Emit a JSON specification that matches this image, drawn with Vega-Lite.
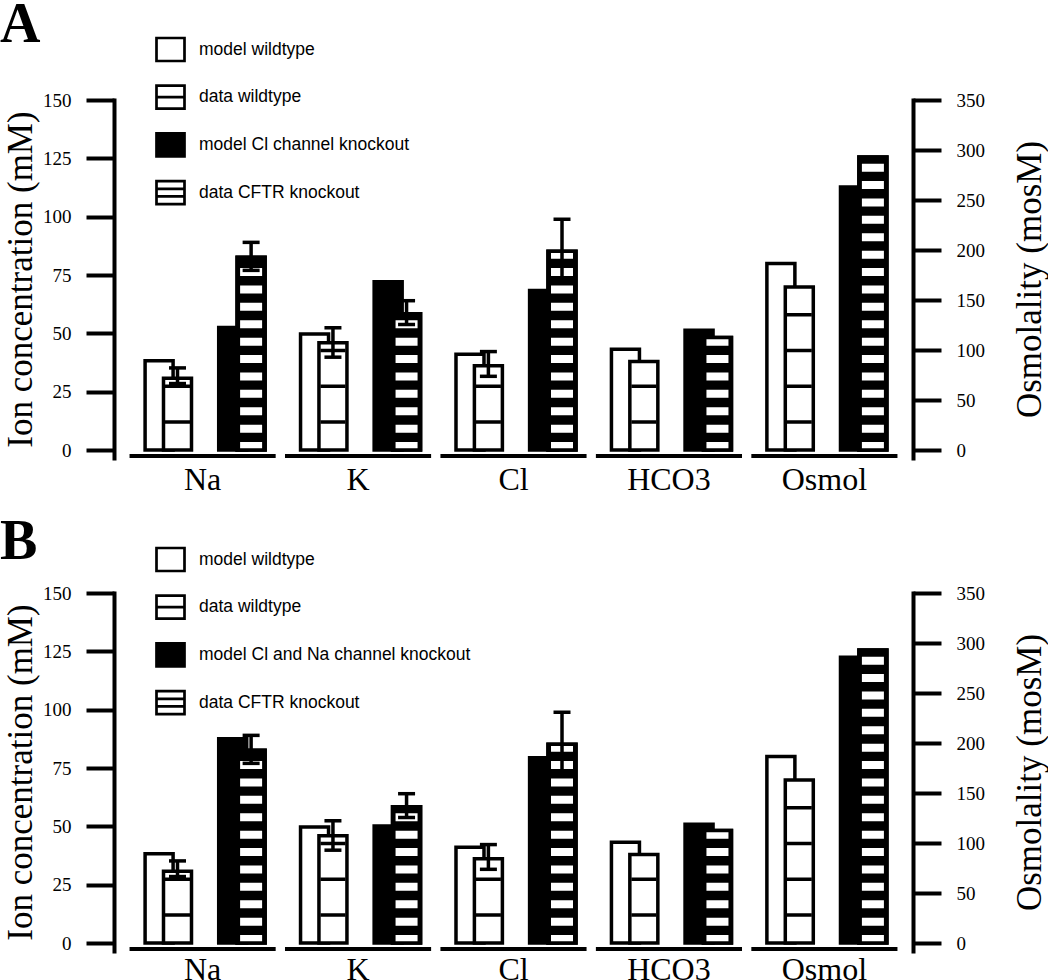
{
  "$schema": "https://vega.github.io/schema/vega-lite/v6.json",
  "padding": {"left": 0, "top": -3, "right": 0, "bottom": 0},
  "bounds": "flush",
  "spacing": 135,
  "resolve": {"scale": {"shape": "independent", "fill": "independent"}, "legend": {"shape": "independent", "fill": "independent"}},
  "config": {
    "view": {"stroke": null},
    "font": "Liberation Serif",
    "style": {"guide-label": {"font": "Liberation Serif", "fontSize": 19, "fill": "black"}},
    "axisY": {"labelFont": "Liberation Serif", "labelFontSize": 19, "labelColor": "black", "labelPadding": 15, "tickSize": 28, "tickWidth": 4, "tickColor": "black", "domainWidth": 4, "domainColor": "black", "domainCap": "square", "titleFont": "Liberation Serif", "titleFontSize": 35, "titleFontWeight": "normal", "titleColor": "black", "grid": false},
    "axisX": {"labelFont": "Liberation Serif", "labelFontSize": 32, "labelColor": "black", "labelPadding": 6, "domain": false, "ticks": false, "tickSize": 0, "labelAngle": 0, "grid": false}
  },
  "datasets": {
    "A": [
      {"group": "Na", "kind": "mwt", "series": "model wildtype", "value": 38.3},
      {"group": "Na", "kind": "dwt", "series": "data wildtype", "value": 30.8, "lo": 28.5, "hi": 35.2},
      {"group": "Na", "kind": "mko", "series": "model Cl channel knockout", "value": 52.5},
      {"group": "Na", "kind": "dko", "series": "data CFTR knockout", "value": 82.6, "lo": 77, "hi": 89},
      {"group": "K", "kind": "mwt", "series": "model wildtype", "value": 49.7},
      {"group": "K", "kind": "dwt", "series": "data wildtype", "value": 46, "lo": 39.8, "hi": 52.4},
      {"group": "K", "kind": "mko", "series": "model Cl channel knockout", "value": 72.1},
      {"group": "K", "kind": "dko", "series": "data CFTR knockout", "value": 58.4, "lo": 53.8, "hi": 64},
      {"group": "Cl", "kind": "mwt", "series": "model wildtype", "value": 41.1},
      {"group": "Cl", "kind": "dwt", "series": "data wildtype", "value": 36.1, "lo": 31.6, "hi": 42.2},
      {"group": "Cl", "kind": "mko", "series": "model Cl channel knockout", "value": 68.4},
      {"group": "Cl", "kind": "dko", "series": "data CFTR knockout", "value": 85.2, "lo": 71.7, "hi": 98.9},
      {"group": "HCO3", "kind": "mwt", "series": "model wildtype", "value": 43.2},
      {"group": "HCO3", "kind": "dwt", "series": "data wildtype", "value": 38},
      {"group": "HCO3", "kind": "mko", "series": "model Cl channel knockout", "value": 51.3},
      {"group": "HCO3", "kind": "dko", "series": "data CFTR knockout", "value": 48.2},
      {"group": "Osmol", "kind": "mwt", "series": "model wildtype", "value": 186.5},
      {"group": "Osmol", "kind": "dwt", "series": "data wildtype", "value": 163},
      {"group": "Osmol", "kind": "mko", "series": "model Cl channel knockout", "value": 263},
      {"group": "Osmol", "kind": "dko", "series": "data CFTR knockout", "value": 293}
    ],
    "B": [
      {"group": "Na", "kind": "mwt", "series": "model wildtype", "value": 38.3},
      {"group": "Na", "kind": "dwt", "series": "data wildtype", "value": 30.8, "lo": 28.5, "hi": 35.2},
      {"group": "Na", "kind": "mko", "series": "model Cl and Na channel knockout", "value": 87.6},
      {"group": "Na", "kind": "dko", "series": "data CFTR knockout", "value": 82.6, "lo": 77, "hi": 89},
      {"group": "K", "kind": "mwt", "series": "model wildtype", "value": 49.7},
      {"group": "K", "kind": "dwt", "series": "data wildtype", "value": 46, "lo": 39.8, "hi": 52.4},
      {"group": "K", "kind": "mko", "series": "model Cl and Na channel knockout", "value": 50.2},
      {"group": "K", "kind": "dko", "series": "data CFTR knockout", "value": 58.4, "lo": 53.8, "hi": 64},
      {"group": "Cl", "kind": "mwt", "series": "model wildtype", "value": 41.1},
      {"group": "Cl", "kind": "dwt", "series": "data wildtype", "value": 36.1, "lo": 31.6, "hi": 42.2},
      {"group": "Cl", "kind": "mko", "series": "model Cl and Na channel knockout", "value": 79.4},
      {"group": "Cl", "kind": "dko", "series": "data CFTR knockout", "value": 85.2, "lo": 71.7, "hi": 98.9},
      {"group": "HCO3", "kind": "mwt", "series": "model wildtype", "value": 43.2},
      {"group": "HCO3", "kind": "dwt", "series": "data wildtype", "value": 38},
      {"group": "HCO3", "kind": "mko", "series": "model Cl and Na channel knockout", "value": 50.9},
      {"group": "HCO3", "kind": "dko", "series": "data CFTR knockout", "value": 48.2},
      {"group": "Osmol", "kind": "mwt", "series": "model wildtype", "value": 186.5},
      {"group": "Osmol", "kind": "dwt", "series": "data wildtype", "value": 163},
      {"group": "Osmol", "kind": "mko", "series": "model Cl and Na channel knockout", "value": 285.7},
      {"group": "Osmol", "kind": "dko", "series": "data CFTR knockout", "value": 293}
    ]
  },
  "vconcat": [
    {
      "width": 799, "height": 358,
      "title": {"text": "A", "anchor": "start", "frame": "group", "font": "Liberation Serif", "fontSize": 56, "fontWeight": "bold", "color": "black", "dx": -114, "dy": 20, "offset": 0},
      "data": {"name": "A"},
      "encoding": {
        "x": {"field": "group", "type": "nominal", "title": null,
          "scale": {"domain": ["Na", "K", "Cl", "HCO3", "Osmol"], "paddingInner": 0.06, "paddingOuter": 0.1},
          "axis": {"domain": false, "ticks": false, "tickSize": 0, "labelAngle": 0, "labelFont": "Liberation Serif", "labelFontSize": 32, "labelColor": "black", "labelPadding": 6}}
      },
      "layer": [
        {
          "encoding": {"y": {"field": "value", "type": "quantitative", "scale": {"domain": [-3.4, 150], "nice": false},
            "axis": {"orient": "left", "values": [0, 25, 50, 75, 100, 125, 150], "title": "Ion concentration (mM)", "titleFont": "Liberation Serif", "titleFontSize": 35, "titleFontWeight": "normal", "titleColor": "black", "titlePadding": 4, "labelFont": "Liberation Serif", "labelFontSize": 19, "labelColor": "black", "labelPadding": 15, "tickSize": 28, "tickWidth": 4, "tickColor": "black", "domainWidth": 4, "domainColor": "black", "domainCap": "square", "grid": false}}},
          "layer": [
            {"transform": [{"filter": "datum.kind == 'mwt'"}], "mark": {"type": "bar", "color": "black"},
             "encoding": {"y": {"datum": -1.7, "type": "quantitative", "scale": {"domain": [-3.4, 150], "nice": false},
               "axis": {"orient": "left", "values": [0, 25, 50, 75, 100, 125, 150], "title": "Ion concentration (mM)", "titleFont": "Liberation Serif", "titleFontSize": 35, "titleFontWeight": "normal", "titleColor": "black", "titlePadding": 4, "labelFont": "Liberation Serif", "labelFontSize": 19, "labelColor": "black", "labelPadding": 15, "tickSize": 28, "tickWidth": 4, "tickColor": "black", "domainWidth": 4, "domainColor": "black", "domainCap": "square", "grid": false}},
               "y2": {"datum": -3.4}}},
            {"transform": [{"filter": "datum.group != 'Osmol'"}],
             "layer": [
               {"transform": [{"filter": "datum.kind == 'mwt'"}], "mark": {"type": "bar", "width": 28, "fill": "white", "stroke": "black", "strokeWidth": 3.5},
                "encoding": {"xOffset": {"field": "kind", "type": "nominal", "scale": {"domain": ["mwt", "dwt", "g1", "g2", "mko", "dko"], "paddingInner": 0, "paddingOuter": 0.97, "align": 0.57}}}},
               {"transform": [{"filter": "datum.kind == 'dwt'"}], "mark": {"type": "bar", "width": 28, "fill": "white", "stroke": "black", "strokeWidth": 3.5},
                "encoding": {"xOffset": {"field": "kind", "type": "nominal", "scale": {"domain": ["mwt", "dwt", "g1", "g2", "mko", "dko"], "paddingInner": 0, "paddingOuter": 0.97, "align": 0.57}}}},
               {"transform": [{"filter": "datum.kind == 'dwt'"}], "mark": {"type": "rule", "stroke": "black", "strokeWidth": 25, "strokeDash": [3.5, 32.3], "strokeDashOffset": 9.55, "strokeCap": "butt"},
                "encoding": {"xOffset": {"field": "kind", "type": "nominal", "scale": {"domain": ["mwt", "dwt", "g1", "g2", "mko", "dko"], "paddingInner": 0, "paddingOuter": 0.97, "align": 0.57}},
                  "y": {"datum": 0, "type": "quantitative", "scale": {"domain": [-3.4, 150], "nice": false},
                    "axis": {"orient": "left", "values": [0, 25, 50, 75, 100, 125, 150], "title": "Ion concentration (mM)", "titleFont": "Liberation Serif", "titleFontSize": 35, "titleFontWeight": "normal", "titleColor": "black", "titlePadding": 4, "labelFont": "Liberation Serif", "labelFontSize": 19, "labelColor": "black", "labelPadding": 15, "tickSize": 28, "tickWidth": 4, "tickColor": "black", "domainWidth": 4, "domainColor": "black", "domainCap": "square", "grid": false}},
                  "y2": {"field": "value"}}},
               {"transform": [{"filter": "datum.kind == 'mko'"}], "mark": {"type": "bar", "width": 28, "fill": "black", "stroke": "black", "strokeWidth": 3.5},
                "encoding": {"xOffset": {"field": "kind", "type": "nominal", "scale": {"domain": ["mwt", "dwt", "g1", "g2", "mko", "dko"], "paddingInner": 0, "paddingOuter": 0.97, "align": 0.57}}}},
               {"transform": [{"filter": "datum.kind == 'dko'"}], "mark": {"type": "bar", "width": 28, "fill": "black", "stroke": "black", "strokeWidth": 3.5},
                "encoding": {"xOffset": {"field": "kind", "type": "nominal", "scale": {"domain": ["mwt", "dwt", "g1", "g2", "mko", "dko"], "paddingInner": 0, "paddingOuter": 0.97, "align": 0.57}}}},
               {"transform": [{"filter": "datum.kind == 'dko'"}], "mark": {"type": "rule", "stroke": "white", "strokeWidth": 22, "strokeDash": [8, 9.4], "strokeDashOffset": 0, "strokeCap": "butt"},
                "encoding": {"xOffset": {"field": "kind", "type": "nominal", "scale": {"domain": ["mwt", "dwt", "g1", "g2", "mko", "dko"], "paddingInner": 0, "paddingOuter": 0.97, "align": 0.57}},
                  "y": {"datum": 0, "type": "quantitative", "scale": {"domain": [-3.4, 150], "nice": false},
                    "axis": {"orient": "left", "values": [0, 25, 50, 75, 100, 125, 150], "title": "Ion concentration (mM)", "titleFont": "Liberation Serif", "titleFontSize": 35, "titleFontWeight": "normal", "titleColor": "black", "titlePadding": 4, "labelFont": "Liberation Serif", "labelFontSize": 19, "labelColor": "black", "labelPadding": 15, "tickSize": 28, "tickWidth": 4, "tickColor": "black", "domainWidth": 4, "domainColor": "black", "domainCap": "square", "grid": false}},
                  "y2": {"field": "value"}}},
               {"transform": [{"filter": "datum.kind == 'dko'"}], "mark": {"type": "bar", "width": 28, "filled": false, "stroke": "black", "strokeWidth": 3.5},
                "encoding": {"xOffset": {"field": "kind", "type": "nominal", "scale": {"domain": ["mwt", "dwt", "g1", "g2", "mko", "dko"], "paddingInner": 0, "paddingOuter": 0.97, "align": 0.57}}}},
               {"transform": [{"filter": "isValid(datum.lo)"}], "mark": {"type": "rule", "stroke": "black", "strokeWidth": 3.5, "opacity": 1},
                "encoding": {"xOffset": {"field": "kind", "type": "nominal", "scale": {"domain": ["mwt", "dwt", "g1", "g2", "mko", "dko"], "paddingInner": 0, "paddingOuter": 0.97, "align": 0.57}},
                  "y": {"field": "lo", "type": "quantitative", "scale": {"domain": [-3.4, 150], "nice": false},
                    "axis": {"orient": "left", "values": [0, 25, 50, 75, 100, 125, 150], "title": "Ion concentration (mM)", "titleFont": "Liberation Serif", "titleFontSize": 35, "titleFontWeight": "normal", "titleColor": "black", "titlePadding": 4, "labelFont": "Liberation Serif", "labelFontSize": 19, "labelColor": "black", "labelPadding": 15, "tickSize": 28, "tickWidth": 4, "tickColor": "black", "domainWidth": 4, "domainColor": "black", "domainCap": "square", "grid": false}},
                  "y2": {"field": "hi"}}},
               {"transform": [{"filter": "isValid(datum.hi)"}], "mark": {"type": "tick", "orient": "horizontal", "color": "black", "size": 17, "thickness": 3.5, "opacity": 1},
                "encoding": {"xOffset": {"field": "kind", "type": "nominal", "scale": {"domain": ["mwt", "dwt", "g1", "g2", "mko", "dko"], "paddingInner": 0, "paddingOuter": 0.97, "align": 0.57}},
                  "y": {"field": "hi", "type": "quantitative", "scale": {"domain": [-3.4, 150], "nice": false},
                    "axis": {"orient": "left", "values": [0, 25, 50, 75, 100, 125, 150], "title": "Ion concentration (mM)", "titleFont": "Liberation Serif", "titleFontSize": 35, "titleFontWeight": "normal", "titleColor": "black", "titlePadding": 4, "labelFont": "Liberation Serif", "labelFontSize": 19, "labelColor": "black", "labelPadding": 15, "tickSize": 28, "tickWidth": 4, "tickColor": "black", "domainWidth": 4, "domainColor": "black", "domainCap": "square", "grid": false}}}},
               {"transform": [{"filter": "isValid(datum.lo)"}], "mark": {"type": "tick", "orient": "horizontal", "color": "black", "size": 17, "thickness": 3.5, "opacity": 1},
                "encoding": {"xOffset": {"field": "kind", "type": "nominal", "scale": {"domain": ["mwt", "dwt", "g1", "g2", "mko", "dko"], "paddingInner": 0, "paddingOuter": 0.97, "align": 0.57}},
                  "y": {"field": "lo", "type": "quantitative", "scale": {"domain": [-3.4, 150], "nice": false},
                    "axis": {"orient": "left", "values": [0, 25, 50, 75, 100, 125, 150], "title": "Ion concentration (mM)", "titleFont": "Liberation Serif", "titleFontSize": 35, "titleFontWeight": "normal", "titleColor": "black", "titlePadding": 4, "labelFont": "Liberation Serif", "labelFontSize": 19, "labelColor": "black", "labelPadding": 15, "tickSize": 28, "tickWidth": 4, "tickColor": "black", "domainWidth": 4, "domainColor": "black", "domainCap": "square", "grid": false}}}},
               {"mark": {"type": "point", "filled": true, "opacity": 0, "size": 784, "stroke": "black", "strokeWidth": 2.7},
                "encoding": {
                  "shape": {"field": "series", "type": "nominal",
                    "scale": {"domain": ["model wildtype", "data wildtype", "model Cl channel knockout", "data CFTR knockout"],
                      "range": ["M-1,-0.82H1V0.82H-1Z", "M-1,-0.82H1V0.82H-1Z M-1,0H1", "M-1,-0.82H1V0.82H-1Z M-1,-0.64H1 M-1,-0.46H1 M-1,-0.28H1 M-1,-0.1H1 M-1,0.08H1 M-1,0.26H1 M-1,0.44H1 M-1,0.62H1 M-1,0.72H1", "M-1,-0.82H1V0.82H-1Z M-1,-0.27H1 M-1,0.27H1"]},
                    "legend": {"orient": "none", "legendX": 41, "legendY": -66, "title": null, "padding": 0, "rowPadding": 12.7, "symbolSize": 784, "symbolStrokeWidth": 2.7, "labelFont": "Liberation Sans", "labelFontSize": 17.5, "labelColor": "black", "labelOffset": 13, "labelLimit": 500}},
                  "fill": {"field": "series", "type": "nominal",
                    "scale": {"domain": ["model wildtype", "data wildtype", "model Cl channel knockout", "data CFTR knockout"], "range": ["white", "white", "black", "white"]},
                    "legend": {"orient": "none", "legendX": 41, "legendY": -66, "title": null, "padding": 0, "rowPadding": 12.7, "symbolSize": 784, "symbolStrokeWidth": 2.7, "labelFont": "Liberation Sans", "labelFontSize": 17.5, "labelColor": "black", "labelOffset": 13, "labelLimit": 500}}
                }}
             ]}
          ]
        },
        {
          "transform": [{"filter": "datum.group == 'Osmol'"}],
          "encoding": {"y": {"field": "value", "type": "quantitative", "scale": {"domain": [-7.933, 350], "nice": false},
            "axis": {"orient": "right", "values": [0, 50, 100, 150, 200, 250, 300, 350], "title": "Osmolality (mosM)", "titleAngle": 270, "titleBaseline": "top", "titleFont": "Liberation Serif", "titleFontSize": 35, "titleFontWeight": "normal", "titleColor": "black", "titlePadding": 28, "labelFont": "Liberation Serif", "labelFontSize": 19, "labelColor": "black", "labelPadding": 15, "tickSize": 28, "tickWidth": 4, "tickColor": "black", "domainWidth": 4, "domainColor": "black", "domainCap": "square", "grid": false}}},
          "layer": [
            {"transform": [{"filter": "datum.kind == 'mwt'"}], "mark": {"type": "bar", "width": 28, "fill": "white", "stroke": "black", "strokeWidth": 3.5},
             "encoding": {"xOffset": {"field": "kind", "type": "nominal", "scale": {"domain": ["mwt", "dwt", "g1", "g2", "mko", "dko"], "paddingInner": 0, "paddingOuter": 0.97, "align": 0.57}}}},
            {"transform": [{"filter": "datum.kind == 'dwt'"}], "mark": {"type": "bar", "width": 28, "fill": "white", "stroke": "black", "strokeWidth": 3.5},
             "encoding": {"xOffset": {"field": "kind", "type": "nominal", "scale": {"domain": ["mwt", "dwt", "g1", "g2", "mko", "dko"], "paddingInner": 0, "paddingOuter": 0.97, "align": 0.57}}}},
            {"transform": [{"filter": "datum.kind == 'dwt'"}], "mark": {"type": "rule", "stroke": "black", "strokeWidth": 25, "strokeDash": [3.5, 32.3], "strokeDashOffset": 9.55, "strokeCap": "butt"},
             "encoding": {"xOffset": {"field": "kind", "type": "nominal", "scale": {"domain": ["mwt", "dwt", "g1", "g2", "mko", "dko"], "paddingInner": 0, "paddingOuter": 0.97, "align": 0.57}},
               "y": {"datum": 0, "type": "quantitative", "scale": {"domain": [-7.933, 350], "nice": false},
                 "axis": {"orient": "right", "values": [0, 50, 100, 150, 200, 250, 300, 350], "title": "Osmolality (mosM)", "titleAngle": 270, "titleBaseline": "top", "titleFont": "Liberation Serif", "titleFontSize": 35, "titleFontWeight": "normal", "titleColor": "black", "titlePadding": 28, "labelFont": "Liberation Serif", "labelFontSize": 19, "labelColor": "black", "labelPadding": 15, "tickSize": 28, "tickWidth": 4, "tickColor": "black", "domainWidth": 4, "domainColor": "black", "domainCap": "square", "grid": false}},
               "y2": {"field": "value"}}},
            {"transform": [{"filter": "datum.kind == 'mko'"}], "mark": {"type": "bar", "width": 28, "fill": "black", "stroke": "black", "strokeWidth": 3.5},
             "encoding": {"xOffset": {"field": "kind", "type": "nominal", "scale": {"domain": ["mwt", "dwt", "g1", "g2", "mko", "dko"], "paddingInner": 0, "paddingOuter": 0.97, "align": 0.57}}}},
            {"transform": [{"filter": "datum.kind == 'dko'"}], "mark": {"type": "bar", "width": 28, "fill": "black", "stroke": "black", "strokeWidth": 3.5},
             "encoding": {"xOffset": {"field": "kind", "type": "nominal", "scale": {"domain": ["mwt", "dwt", "g1", "g2", "mko", "dko"], "paddingInner": 0, "paddingOuter": 0.97, "align": 0.57}}}},
            {"transform": [{"filter": "datum.kind == 'dko'"}], "mark": {"type": "rule", "stroke": "white", "strokeWidth": 22, "strokeDash": [8, 9.4], "strokeDashOffset": 0, "strokeCap": "butt"},
             "encoding": {"xOffset": {"field": "kind", "type": "nominal", "scale": {"domain": ["mwt", "dwt", "g1", "g2", "mko", "dko"], "paddingInner": 0, "paddingOuter": 0.97, "align": 0.57}},
               "y": {"datum": 0, "type": "quantitative", "scale": {"domain": [-7.933, 350], "nice": false},
                 "axis": {"orient": "right", "values": [0, 50, 100, 150, 200, 250, 300, 350], "title": "Osmolality (mosM)", "titleAngle": 270, "titleBaseline": "top", "titleFont": "Liberation Serif", "titleFontSize": 35, "titleFontWeight": "normal", "titleColor": "black", "titlePadding": 28, "labelFont": "Liberation Serif", "labelFontSize": 19, "labelColor": "black", "labelPadding": 15, "tickSize": 28, "tickWidth": 4, "tickColor": "black", "domainWidth": 4, "domainColor": "black", "domainCap": "square", "grid": false}},
               "y2": {"field": "value"}}},
            {"transform": [{"filter": "datum.kind == 'dko'"}], "mark": {"type": "bar", "width": 28, "filled": false, "stroke": "black", "strokeWidth": 3.5},
             "encoding": {"xOffset": {"field": "kind", "type": "nominal", "scale": {"domain": ["mwt", "dwt", "g1", "g2", "mko", "dko"], "paddingInner": 0, "paddingOuter": 0.97, "align": 0.57}}}}
          ]
        }
      ],
      "resolve": {"scale": {"y": "independent"}, "axis": {"y": "independent"}}
    },
    {
      "width": 799, "height": 358,
      "title": {"text": "B", "anchor": "start", "frame": "group", "font": "Liberation Serif", "fontSize": 56, "fontWeight": "bold", "color": "black", "dx": -114, "dy": 27, "offset": 0},
      "data": {"name": "B"},
      "encoding": {
        "x": {"field": "group", "type": "nominal", "title": null,
          "scale": {"domain": ["Na", "K", "Cl", "HCO3", "Osmol"], "paddingInner": 0.06, "paddingOuter": 0.1},
          "axis": {"domain": false, "ticks": false, "tickSize": 0, "labelAngle": 0, "labelFont": "Liberation Serif", "labelFontSize": 32, "labelColor": "black", "labelPadding": 3}}
      },
      "layer": [
        {
          "encoding": {"y": {"field": "value", "type": "quantitative", "scale": {"domain": [-3.4, 150], "nice": false},
            "axis": {"orient": "left", "values": [0, 25, 50, 75, 100, 125, 150], "title": "Ion concentration (mM)", "titleFont": "Liberation Serif", "titleFontSize": 35, "titleFontWeight": "normal", "titleColor": "black", "titlePadding": 4, "labelFont": "Liberation Serif", "labelFontSize": 19, "labelColor": "black", "labelPadding": 15, "tickSize": 28, "tickWidth": 4, "tickColor": "black", "domainWidth": 4, "domainColor": "black", "domainCap": "square", "grid": false}}},
          "layer": [
            {"transform": [{"filter": "datum.kind == 'mwt'"}], "mark": {"type": "bar", "color": "black"},
             "encoding": {"y": {"datum": -1.7, "type": "quantitative", "scale": {"domain": [-3.4, 150], "nice": false},
               "axis": {"orient": "left", "values": [0, 25, 50, 75, 100, 125, 150], "title": "Ion concentration (mM)", "titleFont": "Liberation Serif", "titleFontSize": 35, "titleFontWeight": "normal", "titleColor": "black", "titlePadding": 4, "labelFont": "Liberation Serif", "labelFontSize": 19, "labelColor": "black", "labelPadding": 15, "tickSize": 28, "tickWidth": 4, "tickColor": "black", "domainWidth": 4, "domainColor": "black", "domainCap": "square", "grid": false}},
               "y2": {"datum": -3.4}}},
            {"transform": [{"filter": "datum.group != 'Osmol'"}],
             "layer": [
               {"transform": [{"filter": "datum.kind == 'mwt'"}], "mark": {"type": "bar", "width": 28, "fill": "white", "stroke": "black", "strokeWidth": 3.5},
                "encoding": {"xOffset": {"field": "kind", "type": "nominal", "scale": {"domain": ["mwt", "dwt", "g1", "g2", "mko", "dko"], "paddingInner": 0, "paddingOuter": 0.97, "align": 0.57}}}},
               {"transform": [{"filter": "datum.kind == 'dwt'"}], "mark": {"type": "bar", "width": 28, "fill": "white", "stroke": "black", "strokeWidth": 3.5},
                "encoding": {"xOffset": {"field": "kind", "type": "nominal", "scale": {"domain": ["mwt", "dwt", "g1", "g2", "mko", "dko"], "paddingInner": 0, "paddingOuter": 0.97, "align": 0.57}}}},
               {"transform": [{"filter": "datum.kind == 'dwt'"}], "mark": {"type": "rule", "stroke": "black", "strokeWidth": 25, "strokeDash": [3.5, 32.3], "strokeDashOffset": 9.55, "strokeCap": "butt"},
                "encoding": {"xOffset": {"field": "kind", "type": "nominal", "scale": {"domain": ["mwt", "dwt", "g1", "g2", "mko", "dko"], "paddingInner": 0, "paddingOuter": 0.97, "align": 0.57}},
                  "y": {"datum": 0, "type": "quantitative", "scale": {"domain": [-3.4, 150], "nice": false},
                    "axis": {"orient": "left", "values": [0, 25, 50, 75, 100, 125, 150], "title": "Ion concentration (mM)", "titleFont": "Liberation Serif", "titleFontSize": 35, "titleFontWeight": "normal", "titleColor": "black", "titlePadding": 4, "labelFont": "Liberation Serif", "labelFontSize": 19, "labelColor": "black", "labelPadding": 15, "tickSize": 28, "tickWidth": 4, "tickColor": "black", "domainWidth": 4, "domainColor": "black", "domainCap": "square", "grid": false}},
                  "y2": {"field": "value"}}},
               {"transform": [{"filter": "datum.kind == 'mko'"}], "mark": {"type": "bar", "width": 28, "fill": "black", "stroke": "black", "strokeWidth": 3.5},
                "encoding": {"xOffset": {"field": "kind", "type": "nominal", "scale": {"domain": ["mwt", "dwt", "g1", "g2", "mko", "dko"], "paddingInner": 0, "paddingOuter": 0.97, "align": 0.57}}}},
               {"transform": [{"filter": "datum.kind == 'dko'"}], "mark": {"type": "bar", "width": 28, "fill": "black", "stroke": "black", "strokeWidth": 3.5},
                "encoding": {"xOffset": {"field": "kind", "type": "nominal", "scale": {"domain": ["mwt", "dwt", "g1", "g2", "mko", "dko"], "paddingInner": 0, "paddingOuter": 0.97, "align": 0.57}}}},
               {"transform": [{"filter": "datum.kind == 'dko'"}], "mark": {"type": "rule", "stroke": "white", "strokeWidth": 22, "strokeDash": [8, 9.4], "strokeDashOffset": 0, "strokeCap": "butt"},
                "encoding": {"xOffset": {"field": "kind", "type": "nominal", "scale": {"domain": ["mwt", "dwt", "g1", "g2", "mko", "dko"], "paddingInner": 0, "paddingOuter": 0.97, "align": 0.57}},
                  "y": {"datum": 0, "type": "quantitative", "scale": {"domain": [-3.4, 150], "nice": false},
                    "axis": {"orient": "left", "values": [0, 25, 50, 75, 100, 125, 150], "title": "Ion concentration (mM)", "titleFont": "Liberation Serif", "titleFontSize": 35, "titleFontWeight": "normal", "titleColor": "black", "titlePadding": 4, "labelFont": "Liberation Serif", "labelFontSize": 19, "labelColor": "black", "labelPadding": 15, "tickSize": 28, "tickWidth": 4, "tickColor": "black", "domainWidth": 4, "domainColor": "black", "domainCap": "square", "grid": false}},
                  "y2": {"field": "value"}}},
               {"transform": [{"filter": "datum.kind == 'dko'"}], "mark": {"type": "bar", "width": 28, "filled": false, "stroke": "black", "strokeWidth": 3.5},
                "encoding": {"xOffset": {"field": "kind", "type": "nominal", "scale": {"domain": ["mwt", "dwt", "g1", "g2", "mko", "dko"], "paddingInner": 0, "paddingOuter": 0.97, "align": 0.57}}}},
               {"transform": [{"filter": "isValid(datum.lo)"}], "mark": {"type": "rule", "stroke": "black", "strokeWidth": 3.5, "opacity": 1},
                "encoding": {"xOffset": {"field": "kind", "type": "nominal", "scale": {"domain": ["mwt", "dwt", "g1", "g2", "mko", "dko"], "paddingInner": 0, "paddingOuter": 0.97, "align": 0.57}},
                  "y": {"field": "lo", "type": "quantitative", "scale": {"domain": [-3.4, 150], "nice": false},
                    "axis": {"orient": "left", "values": [0, 25, 50, 75, 100, 125, 150], "title": "Ion concentration (mM)", "titleFont": "Liberation Serif", "titleFontSize": 35, "titleFontWeight": "normal", "titleColor": "black", "titlePadding": 4, "labelFont": "Liberation Serif", "labelFontSize": 19, "labelColor": "black", "labelPadding": 15, "tickSize": 28, "tickWidth": 4, "tickColor": "black", "domainWidth": 4, "domainColor": "black", "domainCap": "square", "grid": false}},
                  "y2": {"field": "hi"}}},
               {"transform": [{"filter": "isValid(datum.hi)"}], "mark": {"type": "tick", "orient": "horizontal", "color": "black", "size": 17, "thickness": 3.5, "opacity": 1},
                "encoding": {"xOffset": {"field": "kind", "type": "nominal", "scale": {"domain": ["mwt", "dwt", "g1", "g2", "mko", "dko"], "paddingInner": 0, "paddingOuter": 0.97, "align": 0.57}},
                  "y": {"field": "hi", "type": "quantitative", "scale": {"domain": [-3.4, 150], "nice": false},
                    "axis": {"orient": "left", "values": [0, 25, 50, 75, 100, 125, 150], "title": "Ion concentration (mM)", "titleFont": "Liberation Serif", "titleFontSize": 35, "titleFontWeight": "normal", "titleColor": "black", "titlePadding": 4, "labelFont": "Liberation Serif", "labelFontSize": 19, "labelColor": "black", "labelPadding": 15, "tickSize": 28, "tickWidth": 4, "tickColor": "black", "domainWidth": 4, "domainColor": "black", "domainCap": "square", "grid": false}}}},
               {"transform": [{"filter": "isValid(datum.lo)"}], "mark": {"type": "tick", "orient": "horizontal", "color": "black", "size": 17, "thickness": 3.5, "opacity": 1},
                "encoding": {"xOffset": {"field": "kind", "type": "nominal", "scale": {"domain": ["mwt", "dwt", "g1", "g2", "mko", "dko"], "paddingInner": 0, "paddingOuter": 0.97, "align": 0.57}},
                  "y": {"field": "lo", "type": "quantitative", "scale": {"domain": [-3.4, 150], "nice": false},
                    "axis": {"orient": "left", "values": [0, 25, 50, 75, 100, 125, 150], "title": "Ion concentration (mM)", "titleFont": "Liberation Serif", "titleFontSize": 35, "titleFontWeight": "normal", "titleColor": "black", "titlePadding": 4, "labelFont": "Liberation Serif", "labelFontSize": 19, "labelColor": "black", "labelPadding": 15, "tickSize": 28, "tickWidth": 4, "tickColor": "black", "domainWidth": 4, "domainColor": "black", "domainCap": "square", "grid": false}}}},
               {"mark": {"type": "point", "filled": true, "opacity": 0, "size": 784, "stroke": "black", "strokeWidth": 2.7},
                "encoding": {
                  "shape": {"field": "series", "type": "nominal",
                    "scale": {"domain": ["model wildtype", "data wildtype", "model Cl and Na channel knockout", "data CFTR knockout"],
                      "range": ["M-1,-0.82H1V0.82H-1Z", "M-1,-0.82H1V0.82H-1Z M-1,0H1", "M-1,-0.82H1V0.82H-1Z M-1,-0.64H1 M-1,-0.46H1 M-1,-0.28H1 M-1,-0.1H1 M-1,0.08H1 M-1,0.26H1 M-1,0.44H1 M-1,0.62H1 M-1,0.72H1", "M-1,-0.82H1V0.82H-1Z M-1,-0.27H1 M-1,0.27H1"]},
                    "legend": {"orient": "none", "legendX": 41, "legendY": -49, "title": null, "padding": 0, "rowPadding": 12.7, "symbolSize": 784, "symbolStrokeWidth": 2.7, "labelFont": "Liberation Sans", "labelFontSize": 17.5, "labelColor": "black", "labelOffset": 13, "labelLimit": 500}},
                  "fill": {"field": "series", "type": "nominal",
                    "scale": {"domain": ["model wildtype", "data wildtype", "model Cl and Na channel knockout", "data CFTR knockout"], "range": ["white", "white", "black", "white"]},
                    "legend": {"orient": "none", "legendX": 41, "legendY": -49, "title": null, "padding": 0, "rowPadding": 12.7, "symbolSize": 784, "symbolStrokeWidth": 2.7, "labelFont": "Liberation Sans", "labelFontSize": 17.5, "labelColor": "black", "labelOffset": 13, "labelLimit": 500}}
                }}
             ]}
          ]
        },
        {
          "transform": [{"filter": "datum.group == 'Osmol'"}],
          "encoding": {"y": {"field": "value", "type": "quantitative", "scale": {"domain": [-7.933, 350], "nice": false},
            "axis": {"orient": "right", "values": [0, 50, 100, 150, 200, 250, 300, 350], "title": "Osmolality (mosM)", "titleAngle": 270, "titleBaseline": "top", "titleFont": "Liberation Serif", "titleFontSize": 35, "titleFontWeight": "normal", "titleColor": "black", "titlePadding": 28, "labelFont": "Liberation Serif", "labelFontSize": 19, "labelColor": "black", "labelPadding": 15, "tickSize": 28, "tickWidth": 4, "tickColor": "black", "domainWidth": 4, "domainColor": "black", "domainCap": "square", "grid": false}}},
          "layer": [
            {"transform": [{"filter": "datum.kind == 'mwt'"}], "mark": {"type": "bar", "width": 28, "fill": "white", "stroke": "black", "strokeWidth": 3.5},
             "encoding": {"xOffset": {"field": "kind", "type": "nominal", "scale": {"domain": ["mwt", "dwt", "g1", "g2", "mko", "dko"], "paddingInner": 0, "paddingOuter": 0.97, "align": 0.57}}}},
            {"transform": [{"filter": "datum.kind == 'dwt'"}], "mark": {"type": "bar", "width": 28, "fill": "white", "stroke": "black", "strokeWidth": 3.5},
             "encoding": {"xOffset": {"field": "kind", "type": "nominal", "scale": {"domain": ["mwt", "dwt", "g1", "g2", "mko", "dko"], "paddingInner": 0, "paddingOuter": 0.97, "align": 0.57}}}},
            {"transform": [{"filter": "datum.kind == 'dwt'"}], "mark": {"type": "rule", "stroke": "black", "strokeWidth": 25, "strokeDash": [3.5, 32.3], "strokeDashOffset": 9.55, "strokeCap": "butt"},
             "encoding": {"xOffset": {"field": "kind", "type": "nominal", "scale": {"domain": ["mwt", "dwt", "g1", "g2", "mko", "dko"], "paddingInner": 0, "paddingOuter": 0.97, "align": 0.57}},
               "y": {"datum": 0, "type": "quantitative", "scale": {"domain": [-7.933, 350], "nice": false},
                 "axis": {"orient": "right", "values": [0, 50, 100, 150, 200, 250, 300, 350], "title": "Osmolality (mosM)", "titleAngle": 270, "titleBaseline": "top", "titleFont": "Liberation Serif", "titleFontSize": 35, "titleFontWeight": "normal", "titleColor": "black", "titlePadding": 28, "labelFont": "Liberation Serif", "labelFontSize": 19, "labelColor": "black", "labelPadding": 15, "tickSize": 28, "tickWidth": 4, "tickColor": "black", "domainWidth": 4, "domainColor": "black", "domainCap": "square", "grid": false}},
               "y2": {"field": "value"}}},
            {"transform": [{"filter": "datum.kind == 'mko'"}], "mark": {"type": "bar", "width": 28, "fill": "black", "stroke": "black", "strokeWidth": 3.5},
             "encoding": {"xOffset": {"field": "kind", "type": "nominal", "scale": {"domain": ["mwt", "dwt", "g1", "g2", "mko", "dko"], "paddingInner": 0, "paddingOuter": 0.97, "align": 0.57}}}},
            {"transform": [{"filter": "datum.kind == 'dko'"}], "mark": {"type": "bar", "width": 28, "fill": "black", "stroke": "black", "strokeWidth": 3.5},
             "encoding": {"xOffset": {"field": "kind", "type": "nominal", "scale": {"domain": ["mwt", "dwt", "g1", "g2", "mko", "dko"], "paddingInner": 0, "paddingOuter": 0.97, "align": 0.57}}}},
            {"transform": [{"filter": "datum.kind == 'dko'"}], "mark": {"type": "rule", "stroke": "white", "strokeWidth": 22, "strokeDash": [8, 9.4], "strokeDashOffset": 0, "strokeCap": "butt"},
             "encoding": {"xOffset": {"field": "kind", "type": "nominal", "scale": {"domain": ["mwt", "dwt", "g1", "g2", "mko", "dko"], "paddingInner": 0, "paddingOuter": 0.97, "align": 0.57}},
               "y": {"datum": 0, "type": "quantitative", "scale": {"domain": [-7.933, 350], "nice": false},
                 "axis": {"orient": "right", "values": [0, 50, 100, 150, 200, 250, 300, 350], "title": "Osmolality (mosM)", "titleAngle": 270, "titleBaseline": "top", "titleFont": "Liberation Serif", "titleFontSize": 35, "titleFontWeight": "normal", "titleColor": "black", "titlePadding": 28, "labelFont": "Liberation Serif", "labelFontSize": 19, "labelColor": "black", "labelPadding": 15, "tickSize": 28, "tickWidth": 4, "tickColor": "black", "domainWidth": 4, "domainColor": "black", "domainCap": "square", "grid": false}},
               "y2": {"field": "value"}}},
            {"transform": [{"filter": "datum.kind == 'dko'"}], "mark": {"type": "bar", "width": 28, "filled": false, "stroke": "black", "strokeWidth": 3.5},
             "encoding": {"xOffset": {"field": "kind", "type": "nominal", "scale": {"domain": ["mwt", "dwt", "g1", "g2", "mko", "dko"], "paddingInner": 0, "paddingOuter": 0.97, "align": 0.57}}}}
          ]
        }
      ],
      "resolve": {"scale": {"y": "independent"}, "axis": {"y": "independent"}}
    }
  ]
}
